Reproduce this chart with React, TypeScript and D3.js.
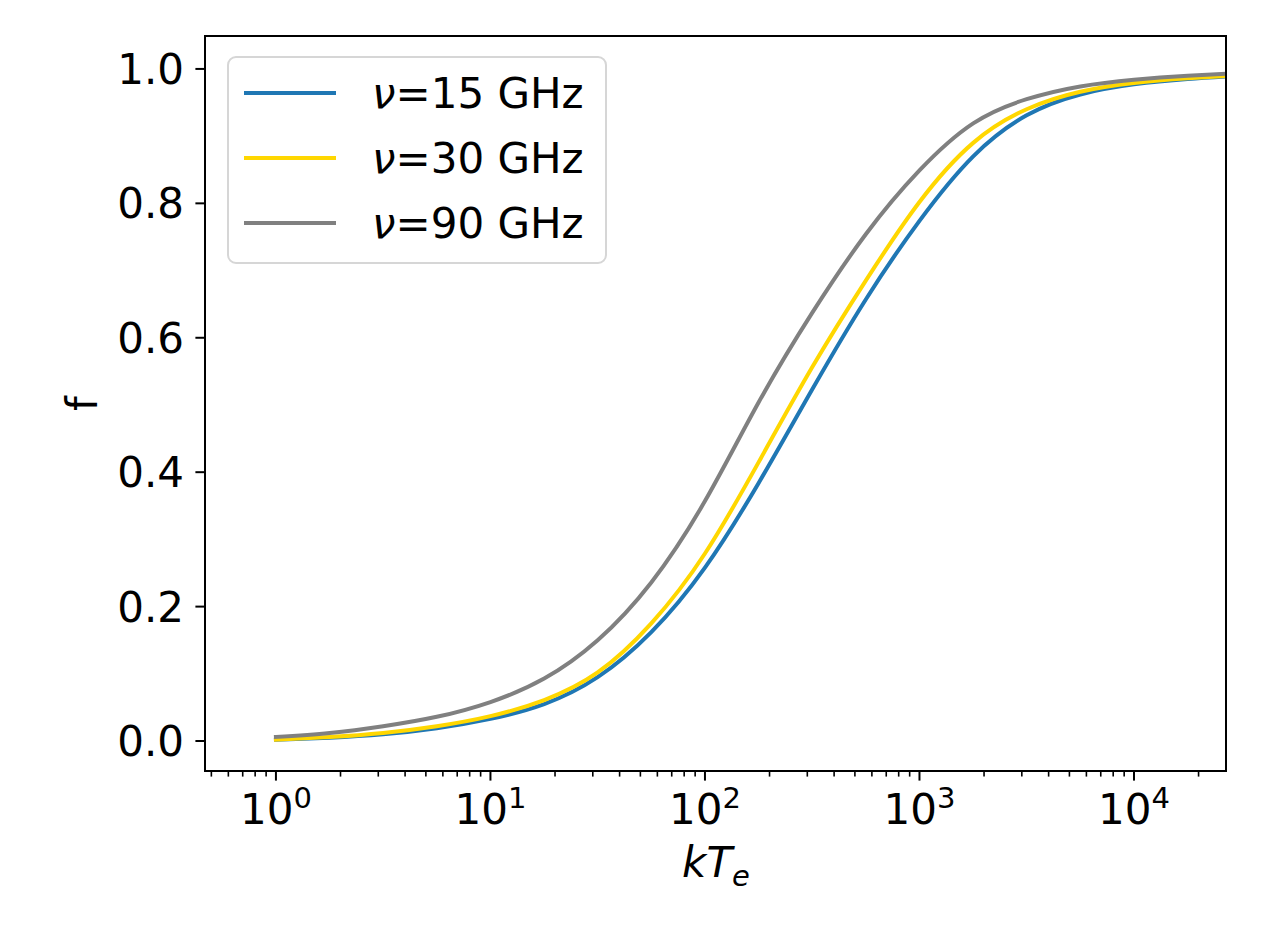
import React from 'react';
import * as d3 from 'd3';

// kT_e sample points (quarter decades) and f
const kTe = [1, 1.78, 3.16, 5.62, 10, 17.8, 31.6, 56.2, 100, 178, 316, 562, 1000, 1780, 3160, 5620, 10000, 17800, 31600];

const f15 = [0.002, 0.005, 0.010, 0.019, 0.033, 0.055, 0.095, 0.162, 0.258, 0.384, 0.523, 0.657, 0.774, 0.870, 0.931, 0.962, 0.977, 0.985, 0.990];
const f30 = [0.002, 0.006, 0.012, 0.022, 0.037, 0.061, 0.102, 0.175, 0.279, 0.415, 0.556, 0.685, 0.802, 0.890, 0.940, 0.966, 0.979, 0.986, 0.991];
const f90 = [0.006, 0.012, 0.022, 0.036, 0.058, 0.093, 0.150, 0.236, 0.357, 0.504, 0.637, 0.754, 0.849, 0.919, 0.955, 0.974, 0.984, 0.990, 0.994];

const seriesNames = ['15', '30', '90'];
const seriesColors = ['#1f77b4', '#ffd700', '#808080'];
const seriesValues = [f15, f30, f90];

const yTicks = [0, 0.2, 0.4, 0.6, 0.8, 1.0];
const xDecades = [0, 1, 2, 3, 4];

const W = 1262;
const H = 946;
const left = 205;
const right = 1226;
const top = 36;
const bottom = 771;
const font = 'DejaVu Sans';
const fs = 42;

export default function App() {
  const x = d3.scaleLog().domain([0.467, 26850]).range([left, right]);
  const y = d3.scaleLinear().domain([-0.0446, 1.049]).range([bottom, top]);

  const line = d3.line<number>()
    .x((_d, i) => x(kTe[i]))
    .y(d => y(d))
    .curve(d3.curveNatural);

  const minor: number[] = [];
  for (let e = -1; e <= 4; e++) {
    for (let m = 2; m <= 9; m++) {
      const v = m * Math.pow(10, e);
      if (v >= 0.467 && v <= 26850) minor.push(v);
    }
  }

  const legX = 228;
  const legY = 57;
  const legRows = [93, 158, 223];

  return (
    <svg width={W} height={H} style={{ position: 'absolute', left: 0, top: 0, background: '#fff' }}
      fontFamily={font}>
      <defs>
        <clipPath id="plot">
          <rect x={left} y={top} width={right - left} height={bottom - top} />
        </clipPath>
      </defs>
      <rect x={0} y={0} width={W} height={H} fill="#fff" />

      <g clipPath="url(#plot)">
        {seriesValues.map((vals, k) => (
          <path key={k} d={line(vals) || ''} fill="none" stroke={seriesColors[k]}
            strokeWidth={4} strokeLinecap="square" strokeLinejoin="round" />
        ))}
      </g>

      {/* y axis */}
      {yTicks.map(t => (
        <g key={t}>
          <line x1={left - 9.6} x2={left} y1={y(t)} y2={y(t)} stroke="#000" strokeWidth={2} />
          <text x={left - 21} y={y(t)} dy="0.36em" textAnchor="end" fontSize={fs}>{t.toFixed(1)}</text>
        </g>
      ))}

      {/* x axis */}
      {minor.map(v => (
        <line key={v} x1={x(v)} x2={x(v)} y1={bottom} y2={bottom + 5.6} stroke="#000" strokeWidth={1.6} />
      ))}
      {xDecades.map(e => {
        const px = x(Math.pow(10, e));
        return (
          <g key={e}>
            <line x1={px} x2={px} y1={bottom} y2={bottom + 9.6} stroke="#000" strokeWidth={2} />
            <text x={px} y={824} textAnchor="middle" fontSize={fs}>
              10<tspan fontSize={29} dy={-16}>{e}</tspan>
            </text>
          </g>
        );
      })}

      <rect x={left} y={top} width={right - left} height={bottom - top} fill="none" stroke="#000" strokeWidth={2} />

      {/* axis labels */}
      <text x={716} y={877} textAnchor="middle" fontSize={fs} fontStyle="italic">
        kT<tspan fontSize={29} dy={9}>e</tspan>
      </text>
      <text transform={`translate(97,${(top + bottom) / 2}) rotate(-90)`} textAnchor="middle" fontSize={fs}>f</text>

      {/* legend */}
      <rect x={legX} y={legY} width={378} height={206} rx={8} ry={8} fill="#fff" fillOpacity={0.8}
        stroke="#d6d6d6" strokeWidth={2} />
      {seriesNames.map((n, k) => (
        <g key={n}>
          <line x1={244} x2={336} y1={legRows[k]} y2={legRows[k]} stroke={seriesColors[k]} strokeWidth={4} />
          <text x={372} y={legRows[k]} dy="0.36em" fontSize={fs}>
            <tspan fontStyle="italic">ν</tspan>={n} GHz
          </text>
        </g>
      ))}
    </svg>
  );
}
